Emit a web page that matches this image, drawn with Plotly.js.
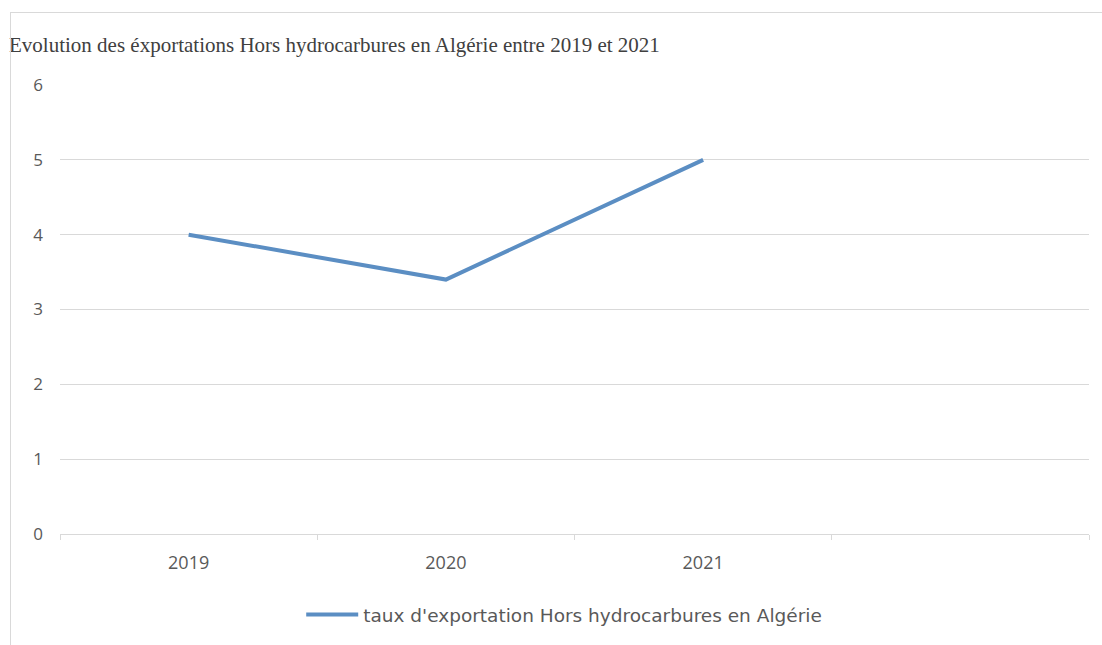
<!DOCTYPE html>
<html>
<head>
<meta charset="utf-8">
<script src="https://cdn.plot.ly/plotly-3.0.1.min.js"></script>
<style>
  html, body { margin: 0; padding: 0; background: #ffffff; }
  #wrap { position: relative; width: 1102px; height: 645px; overflow: hidden; }
  #frame { position: absolute; left: 10px; top: 12px; right: -2px; bottom: -2px;
           border-left: 1px solid #d9d9d9; border-top: 1px solid #d9d9d9; pointer-events: none; }
  #chart { position: absolute; left: 0; top: 0; width: 1102px; height: 645px; }
</style>
</head>
<body>
<div id="wrap">
  <div id="chart"></div>
  <div id="frame"></div>
</div>
<script>
// Export rate outside hydrocarbons, Algeria
const years = ['2019', '2020', '2021'];
const rates = [4, 3.4, 5];
// category slots on the horizontal axis (last slot left empty)
const slots = ['2019', '2020', '2021', ' '];
const yTicks = [0, 1, 2, 3, 4, 5, 6];

const seriesName = "taux d'exportation Hors hydrocarbures en Algérie";
const chartTitle = 'Evolution des éxportations Hors hydrocarbures en Algérie entre 2019 et 2021';

const trace = {
  type: 'scatter',
  mode: 'lines',
  x: years,
  y: rates,
  name: seriesName,
  line: { color: '#5b8ec3', width: 4 },
  hoverinfo: 'x+y'
};

const layout = {
  width: 1102,
  height: 645,
  paper_bgcolor: 'rgba(0,0,0,0)',
  plot_bgcolor: 'rgba(0,0,0,0)',
  margin: { l: 60, r: 13, t: 85, b: 110 },
  title: {
    text: chartTitle,
    font: { family: 'Liberation Serif, serif', size: 21, color: '#404040' },
    x: 9 / 1102, xref: 'container', xanchor: 'left',
    y: 1 - 45 / 645, yref: 'container', yanchor: 'middle'
  },
  showlegend: true,
  legend: {
    orientation: 'h',
    x: 0.49, xanchor: 'center',
    y: (535 - 615) / 450, yanchor: 'middle',
    itemwidth: 52,
    font: { family: 'DejaVu Sans, sans-serif', size: 18.5, color: '#595959' }
  },
  xaxis: {
    type: 'category',
    categoryorder: 'array',
    categoryarray: slots,
    range: [-0.5, slots.length - 0.5],
    tickson: 'boundaries',
    ticks: 'outside',
    ticklen: 5,
    tickcolor: '#d9d9d9',
    showgrid: false,
    showline: true,
    linecolor: '#d9d9d9',
    linewidth: 1,
    zeroline: false,
    fixedrange: true,
    tickfont: { family: 'Open Sans, sans-serif', size: 18, color: '#595959' },
    ticklabelstandoff: 12
  },
  yaxis: {
    range: [0, 6],
    tickvals: yTicks,
    ticks: '',
    showgrid: true,
    gridcolor: '#d9d9d9',
    gridwidth: 1,
    showline: false,
    zeroline: false,
    fixedrange: true,
    tickfont: { family: 'Open Sans, sans-serif', size: 17, color: '#595959' },
    ticklabelstandoff: 16
  }
};

Plotly.newPlot('chart', [trace], layout, { displayModeBar: false, staticPlot: true });
</script>
</body>
</html>
